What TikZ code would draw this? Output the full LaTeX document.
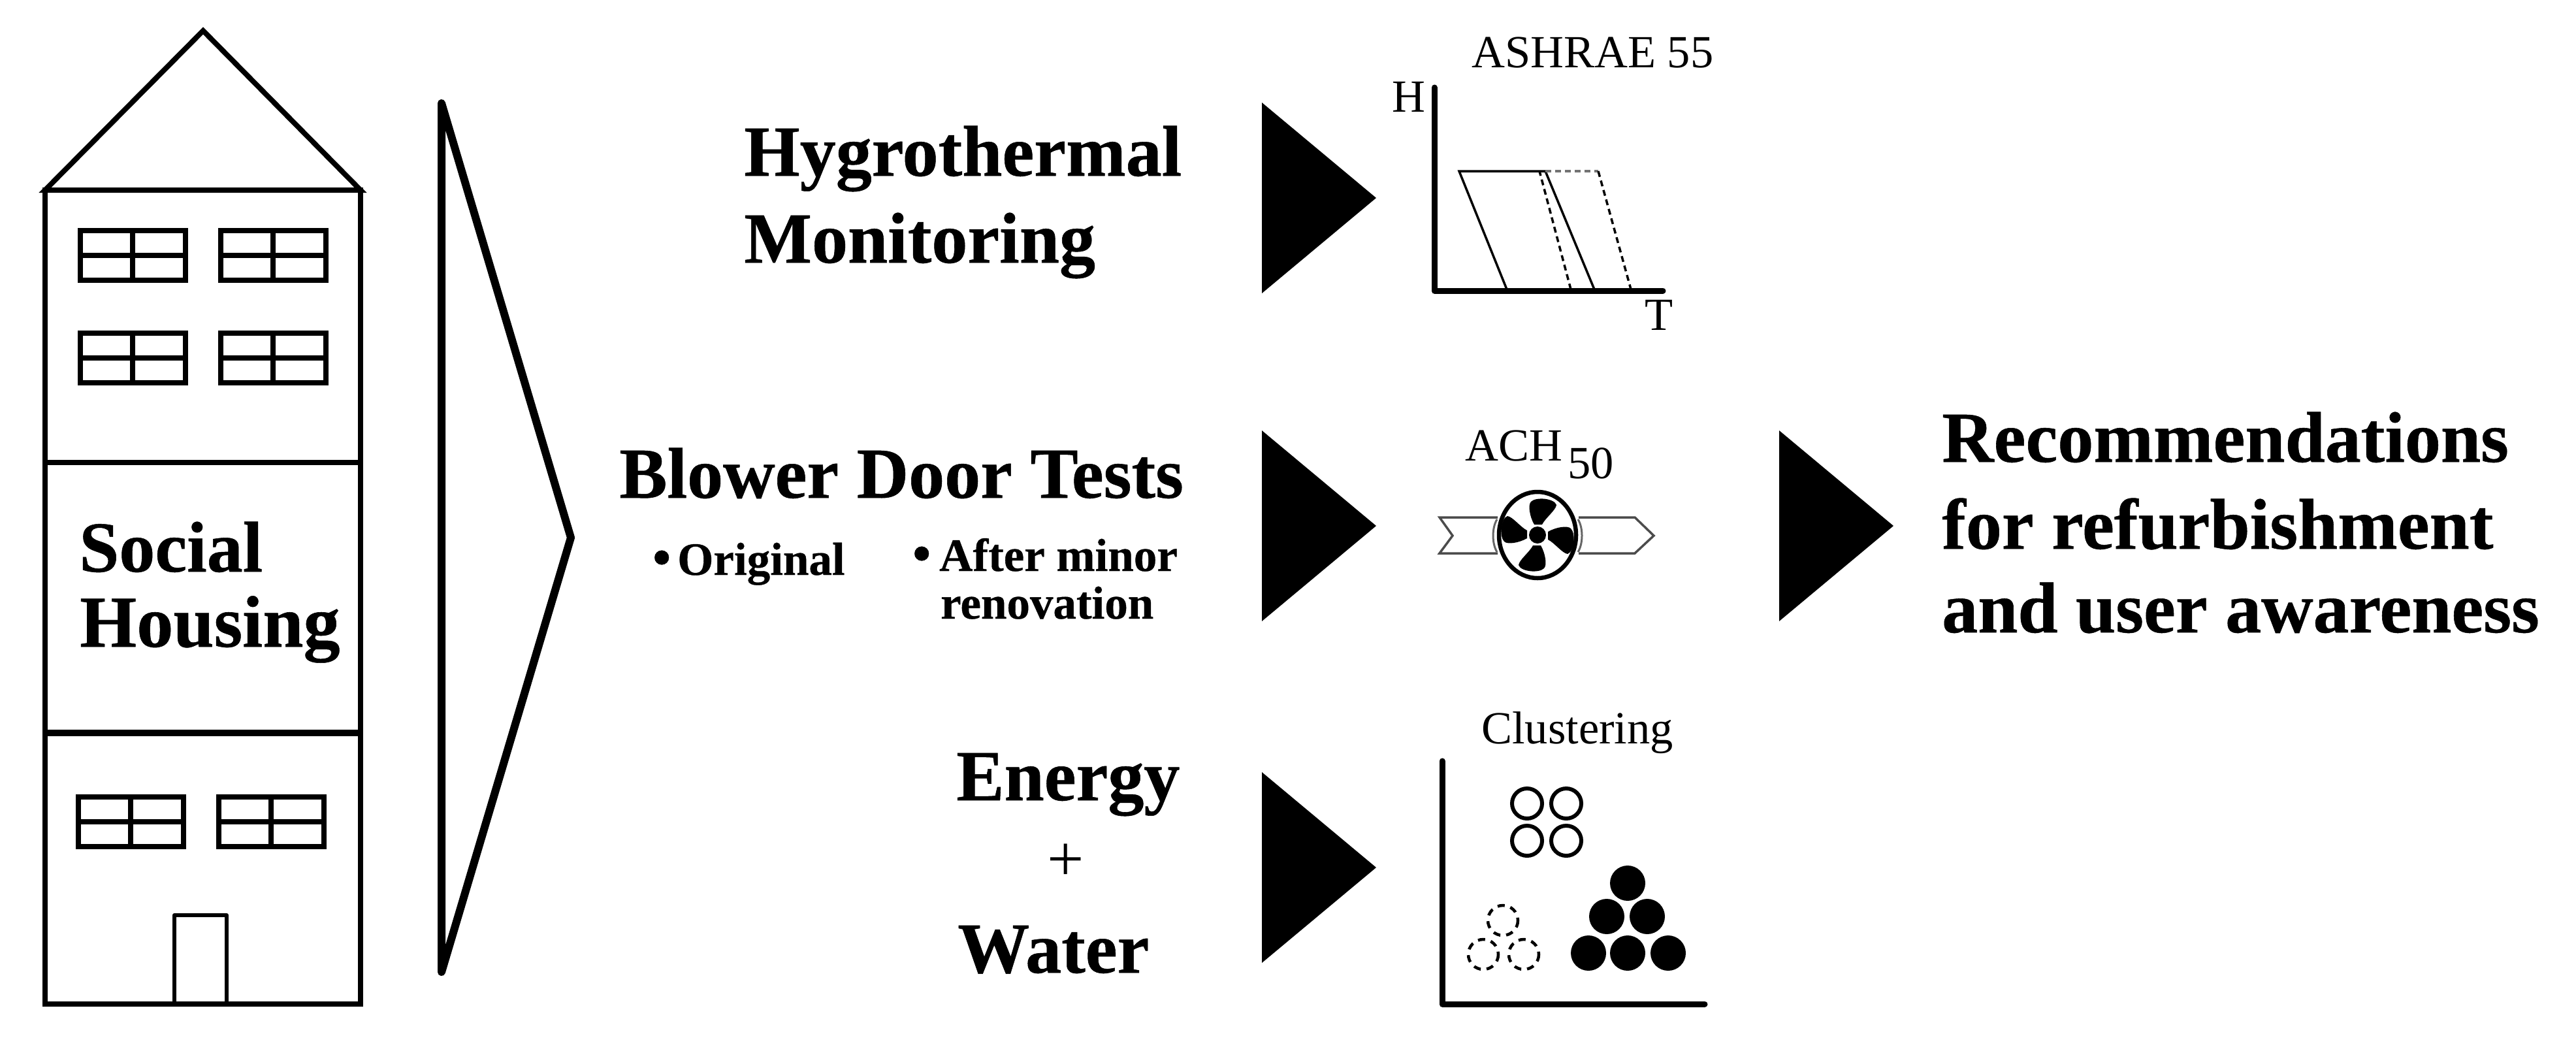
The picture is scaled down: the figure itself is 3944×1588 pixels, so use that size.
\documentclass[tikz,border=0pt]{standalone}
\usepackage{fontspec}
\setmainfont{Liberation Serif}[BoldFeatures={FakeBold=0.5}]
\tikzset{
    bigtext/.style={anchor=base west,inner sep=0pt,font=\fontsize{110}{110}\selectfont\bfseries},
    midtext/.style={anchor=base west,inner sep=0pt,font=\fontsize{71}{71}\selectfont\bfseries},
    thintext/.style={anchor=base west,inner sep=0pt,font=\fontsize{70.5}{70.5}\selectfont},
    wall/.style={draw,line width=8pt,line join=miter},
    pane/.style={draw,line width=8pt},
    axisline/.style={line width=9pt,line cap=round,line join=round},
    zone/.style={line width=3.5pt},
    zonedash/.style={line width=3.5pt,dash pattern=on 9pt off 6pt},
    playtri/.style={fill=black}
}
\begin{document}
\begin{tikzpicture}[x=1pt,y=-1pt]
        \useasboundingbox (0,0) rectangle (3944,1588);

        % house
        \draw[wall] (69,291) -- (311,47) -- (552,291) -- cycle;
        \draw[wall] (69,291) rectangle (552,1537);
        \draw[wall] (69,708) -- (552,708);
        \draw[wall,line width=10pt] (69,1122) -- (552,1122);
        \draw[line width=6pt,line join=round] (267,1537) -- (267,1401) -- (347,1401) -- (347,1537);
        \foreach \x/\y in {123/353,338/353,123/510,338/510,120/1220,335/1220}
            {
                \draw[pane] (\x,\y) rectangle +(161,76);
                \draw[pane] (\x,\y+38) -- +(161,0);
                \draw[pane] (\x+80,\y) -- +(0,76);
            }
        \node[bigtext] (social) at (121,875) {Social};
        \node[bigtext,font=\fontsize{112}{112}\selectfont\bfseries] (housing) at (122,990) {Housing};

        % big open triangle
        \draw[line width=12pt,line join=round] (676,158) -- (874,823) -- (676,1488) -- cycle;

        % black triangles
        \foreach \x/\y in {1932/303,1932/805,1932/1328,2724/805}
            {
                \fill[playtri] (\x,\y-146) -- (\x+175,\y) -- (\x,\y+146) -- cycle;
            }

        % left column
        \node[bigtext] (hygro) at (1139,269) {Hygrothermal};
        \node[bigtext] (monitor) at (1139,402) {Monitoring};
        \node[bigtext] (blower) at (948,762) {Blower Door Tests};
        \node[midtext] (original) at (999,880) {\fontsize{80}{80}\selectfont•\kern10pt\fontsize{71}{71}\selectfont Original};
        \node[midtext] (after) at (1397,874) {\fontsize{80}{80}\selectfont•\kern13pt\fontsize{71}{71}\selectfont After minor};
        \node[midtext] (renov) at (1440,947) {renovation};
        \node[bigtext] (energy) at (1464,1225) {Energy};
        \node[anchor=center,inner sep=0pt,font=\fontsize{100}{100}\selectfont] (plus) at (1632,1320) {+};
        \node[bigtext] (water) at (1466,1489) {Water};

        % comfort chart
        \draw[axisline] (2196,134) -- (2196,445) -- (2546,445);
        \node[thintext] (ashrae) at (2253,103) {ASHRAE 55};
        \node[thintext] (haxis) at (2131,171) {H};
        \node[thintext] (taxis) at (2518,505) {T};
        \draw[zone] (2307,443) -- (2234,262) -- (2366,262) -- (2441,443);
        \draw[zonedash] (2405,443) -- (2357,262);
        \draw[zonedash,black!55] (2366,262) -- (2447,262);
        \draw[zonedash] (2447,262) -- (2497,443);

        % fan
        \draw[line width=3.5pt,black!70,line join=miter] (2293,792) -- (2204,792) -- (2224,820) -- (2204,847) -- (2293,847);
        \draw[line width=3.5pt,black!70,line join=miter] (2417,792) -- (2503,792) -- (2532,820) -- (2503,847) -- (2417,847);
        \draw[line width=3pt,black!60] (2292,795) .. controls (2284,808) and (2284,832) .. (2292,845);
        \draw[line width=3pt,black!60] (2416,795) .. controls (2424,808) and (2424,832) .. (2416,845);
        \draw[line width=6.5pt,fill=white] (2354,819) ellipse (59 and 66);
        \fill (2354,819) circle (13);
        \foreach \a in {0,90,180,270}
            {
                \fill[shift={(2354,819)},rotate=\a] (-5,-16) .. controls (-12,-28) and (-15,-46) .. (-10,-51) .. controls (-2,-59) and (26,-56) .. (29,-46) .. controls (28,-38) and (12,-26) .. (7,-16) -- cycle;
            }
        \node[thintext] (ach) at (2243,705) {ACH};
        \node[thintext] (achsub) at (2400,732) {50};

        % clustering chart
        \draw[axisline] (2208,1165) -- (2208,1537) -- (2610,1537);
        \node[thintext] (cluster) at (2268,1138) {Clustering};
        \foreach \x/\y in {2338/1230,2398/1230,2338/1287,2398/1287}
            {
                \draw[line width=6pt] (\x,\y) circle (23);
            }
        \foreach \x/\y in {2492/1352,2460/1403,2522/1403,2432/1459,2492/1459,2554/1459}
            {
                \fill (\x,\y) circle (27);
            }
        \foreach \x/\y in {2301/1409,2271/1461,2333/1461}
            {
                \draw[line width=4.5pt,dash pattern=on 11pt off 9pt] (\x,\y) circle (23);
            }

        % right column
        \node[bigtext] (recom) at (2973,707) {Recommendations};
        \node[bigtext] (refurb) at (2973,840) {for refurbishment};
        \node[bigtext] (aware) at (2973,968) {and user awareness};
    \end{tikzpicture}
\end{document}
